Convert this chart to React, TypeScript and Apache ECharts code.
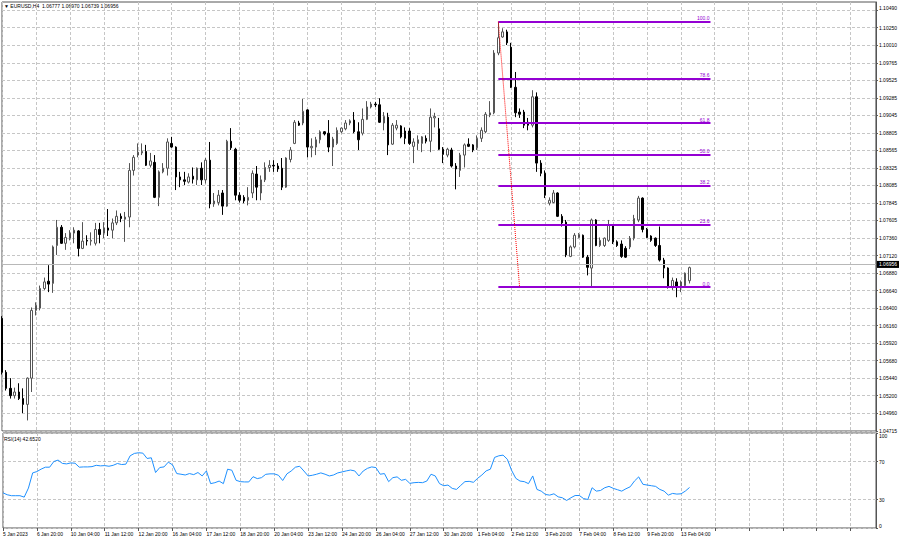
import React, { useEffect, useRef } from 'react';
import * as echarts from 'echarts';

const tickLabels = ['5 Jan 2023', '6 Jan 20:00', '10 Jan 04:00', '11 Jan 12:00', '12 Jan 20:00', '16 Jan 04:00', '17 Jan 12:00', '18 Jan 20:00', '20 Jan 04:00', '23 Jan 12:00', '24 Jan 20:00', '26 Jan 04:00', '27 Jan 12:00', '30 Jan 20:00', '1 Feb 04:00', '2 Feb 12:00', '3 Feb 20:00', '7 Feb 04:00', '8 Feb 12:00', '9 Feb 20:00', '13 Feb 04:00'];
const barsPerLabel = 8;
const slotCount = 207;

const opens = [1.0626,1.0552,1.0530,1.0520,1.0525,1.0516,1.0508,1.0544,1.0637,1.0640,
 1.0667,1.0677,1.0674,1.0726,1.0751,1.0729,1.0736,1.0743,1.0746,1.0722,
 1.0733,1.0732,1.0729,1.0748,1.0743,1.0750,1.0747,1.0757,1.0766,1.0762,
 1.0765,1.0829,1.0850,1.0853,1.0855,1.0836,1.0840,1.0792,1.0827,1.0832,
 1.0866,1.0861,1.0820,1.0816,1.0813,1.0821,1.0816,1.0832,1.0816,1.0843,
 1.0783,1.0785,1.0798,1.0780,1.0869,1.0858,1.0795,1.0792,1.0788,1.0798,
 1.0824,1.0798,1.0816,1.0833,1.0836,1.0835,1.0832,1.0806,1.0844,1.0866,
 1.0894,1.0894,1.0912,1.0860,1.0861,1.0871,1.0882,1.0880,1.0861,1.0866,
 1.0882,1.0886,1.0894,1.0898,1.0882,1.0880,1.0899,1.0916,1.0920,1.0919,
 1.0894,1.0902,1.0865,1.0887,1.0890,1.0883,1.0883,1.0862,1.0866,1.0866,
 1.0873,1.0869,1.0901,1.0886,1.0858,1.0850,1.0857,1.0835,1.0829,1.0850,
 1.0865,1.0864,1.0860,1.0873,1.0882,1.0905,1.0908,1.0990,1.1012,1.1019,
 1.0998,1.0943,1.0909,1.0909,1.0895,1.0891,1.0930,1.0839,1.0825,1.0784,
 1.0785,1.0798,1.0766,1.0758,1.0711,1.0724,1.0737,1.0740,1.0710,1.0695,
 1.0761,1.0726,1.0726,1.0733,1.0754,1.0731,1.0728,1.0722,1.0724,1.0736,
 1.0761,1.0791,1.0748,1.0739,1.0736,1.0726,1.0706,1.0695,1.0669,1.0676,
 1.0669,1.0671,1.06777];

const closes = [1.0552,1.0530,1.0520,1.0525,1.0516,1.0508,1.0544,1.0637,1.0644,1.0667,
 1.0676,1.0673,1.0724,1.0751,1.0729,1.0737,1.0743,1.0747,1.0722,1.0732,
 1.0732,1.0733,1.0748,1.0741,1.0750,1.0747,1.0757,1.0766,1.0763,1.0765,
 1.0829,1.0847,1.0854,1.0855,1.0836,1.0842,1.0792,1.0827,1.0832,1.0868,
 1.0861,1.0820,1.0816,1.0814,1.0820,1.0817,1.0832,1.0816,1.0843,1.0783,
 1.0787,1.0795,1.0780,1.0869,1.0860,1.0795,1.0788,1.0787,1.0792,1.0825,
 1.0806,1.0816,1.0833,1.0836,1.0835,1.0831,1.0806,1.0846,1.0857,1.0895,
 1.0891,1.0910,1.0861,1.0862,1.0871,1.0882,1.0879,1.0861,1.0872,1.0884,
 1.0887,1.0894,1.0897,1.0882,1.0871,1.0899,1.0916,1.0920,1.0919,1.0895,
 1.0903,1.0864,1.0891,1.0891,1.0875,1.0873,1.0866,1.0868,1.0871,1.0875,
 1.0869,1.0902,1.0903,1.0858,1.0851,1.0858,1.0835,1.0831,1.0850,1.0864,
 1.0862,1.0857,1.0873,1.0884,1.0906,1.0908,1.0990,1.1011,1.1019,1.1004,
 1.0943,1.0908,1.0906,1.0891,1.0891,1.0930,1.0839,1.0825,1.0795,1.0788,
 1.0798,1.0766,1.0757,1.0713,1.0724,1.0740,1.0741,1.0710,1.0696,1.0761,
 1.0726,1.0733,1.0736,1.0754,1.0731,1.0726,1.0711,1.0710,1.0736,1.0763,
 1.0791,1.0748,1.0737,1.0733,1.0726,1.0706,1.0695,1.0669,1.0678,1.0670,
 1.0676,1.0688,1.06956];

const lows = [1.0549,1.0527,1.0516,1.0516,1.0514,1.0496,1.0486,1.0525,1.0630,1.0637,
 1.0665,1.0662,1.0661,1.0713,1.0728,1.0720,1.0733,1.0729,1.0711,1.0721,
 1.0726,1.0726,1.0726,1.0729,1.0736,1.0739,1.0736,1.0754,1.0758,1.0731,
 1.0751,1.0822,1.0847,1.0850,1.0835,1.0833,1.0791,1.0780,1.0825,1.0822,
 1.0860,1.0802,1.0806,1.0809,1.0811,1.0811,1.0809,1.0809,1.0811,1.0777,
 1.0779,1.0781,1.0768,1.0779,1.0857,1.0788,1.0785,1.0784,1.0781,1.0791,
 1.0788,1.0788,1.0813,1.0827,1.0827,1.0827,1.0802,1.0805,1.0840,1.0865,
 1.0890,1.0891,1.0847,1.0847,1.0850,1.0866,1.0877,1.0854,1.0835,1.0864,
 1.0880,1.0884,1.0891,1.0880,1.0857,1.0877,1.0898,1.0914,1.0916,1.0894,
 1.0884,1.0850,1.0864,1.0884,1.0873,1.0865,1.0864,1.0839,1.0857,1.0854,
 1.0866,1.0854,1.0888,1.0857,1.0839,1.0847,1.0833,1.0803,1.0820,1.0833,
 1.0861,1.0854,1.0857,1.0868,1.0880,1.0902,1.0906,1.0987,1.1011,1.1001,
 1.0942,1.0902,1.0901,1.0887,1.0884,1.0888,1.0827,1.0821,1.0791,1.0781,
 1.0784,1.0765,1.0752,1.0710,1.0710,1.0722,1.0736,1.0709,1.0685,1.0669,
 1.0725,1.0724,1.0724,1.0731,1.0728,1.0724,1.0709,1.0709,1.0721,1.0733,
 1.0758,1.0744,1.0736,1.0731,1.0724,1.0704,1.0681,1.0667,1.0665,1.0655,
 1.0662,1.0669,1.06739];

const highs = [1.0629,1.0555,1.0544,1.0531,1.0537,1.0530,1.0545,1.0641,1.0648,1.0671,
 1.0682,1.0699,1.0726,1.0761,1.0754,1.0743,1.0747,1.0751,1.0747,1.0758,
 1.0740,1.0744,1.0757,1.0757,1.0758,1.0776,1.0763,1.0774,1.0770,1.0772,
 1.0839,1.0850,1.0866,1.0866,1.0864,1.0853,1.0850,1.0829,1.0839,1.0873,
 1.0875,1.0862,1.0827,1.0827,1.0825,1.0833,1.0833,1.0840,1.0846,1.0868,
 1.0798,1.0802,1.0802,1.0871,1.0887,1.0860,1.0799,1.0795,1.0806,1.0829,
 1.0835,1.0822,1.0840,1.0843,1.0843,1.0839,1.0846,1.0847,1.0861,1.0898,
 1.0897,1.0927,1.0913,1.0873,1.0875,1.0884,1.0883,1.0898,1.0875,1.0888,
 1.0888,1.0898,1.0899,1.0909,1.0895,1.0914,1.0924,1.0923,1.0923,1.0928,
 1.0909,1.0908,1.0894,1.0898,1.0891,1.0888,1.0887,1.0873,1.0877,1.0876,
 1.0877,1.0914,1.0908,1.0901,1.0861,1.0860,1.0860,1.0839,1.0853,1.0866,
 1.0873,1.0865,1.0877,1.0888,1.0909,1.0924,1.0994,1.1033,1.1024,1.1022,
 1.1004,1.0964,1.0914,1.0912,1.0901,1.0939,1.0936,1.0843,1.0829,1.0792,
 1.0802,1.0799,1.0769,1.0761,1.0726,1.0743,1.0743,1.0741,1.0713,1.0763,
 1.0762,1.0737,1.0737,1.0761,1.0755,1.0733,1.0733,1.0725,1.0739,1.0768,
 1.0794,1.0792,1.0750,1.0740,1.0737,1.0752,1.0709,1.0696,1.0682,1.0681,
 1.0678,1.0689,1.06970];

const rsiValues = [37,35,34,34,34,32.5,42,58,59.4,62,
 64,64,70,71.5,68,67.5,68.5,68.2,64,64.3,
 64.3,64.6,66,65.4,65.7,65,66,67.9,66.8,67.2,
 76,78.5,79.2,78.8,73.2,73.9,58.4,63.7,64.3,69.3,
 66.5,57.3,56.6,55.8,57.3,56.2,58.4,54.8,60.1,46.7,
 47.7,49.4,46.7,61.9,60.8,50.2,48.8,48.5,48.5,54,
 52,53,56.5,57,57,55.5,50,57,60,64,
 65,60,54.8,55.5,56.6,58,56.6,54.8,55.8,58,
 59,60.1,61,60.1,54.8,60,62.8,64.3,63.6,56.6,
 57.3,48.8,53,53.8,50.2,51.2,47,47.7,48,47.7,
 49.4,56.6,54.8,46.7,44.5,45.2,41.7,40.6,44.8,48.8,
 49.1,48.1,52.3,55.8,60.1,61.9,74.3,76,76.7,72.4,
 60.8,52.3,49.4,48.8,46.7,54.8,40.6,38.8,35.3,34.6,
 36,32.8,31.8,29,31.8,34.2,34.2,31,30,42.4,
 38.8,39.5,42.4,43.8,41.7,40.3,38.8,41.3,43.4,49.4,
 53.8,46,45.2,44.5,43.8,40.6,38.8,34.6,36.4,35.7,
 36,38.8,42.652];

const priceTicks = [1.10490, 1.10250, 1.10010, 1.09765, 1.09525, 1.09285, 1.09045, 1.08805, 1.08565, 1.08325, 1.08085, 1.07845, 1.07605, 1.07360, 1.07120, 1.06880, 1.06640, 1.06400, 1.06160, 1.05920, 1.05680, 1.05440, 1.05200, 1.04960, 1.04715];
const rsiTicks = [0, 30, 70, 100];

const fibLevels = [0, 23.6, 38.2, 50, 61.8, 78.6, 100];
const fibHigh = 1.1033;
const fibLow = 1.0669;
const fibStartIdx = 117;
const fibEndIdx = 167;
const trendEndIdx = 122;
const lastPrice = 1.06956;
const headerText = '\u25BC EURUSD,H4  1.06777 1.06970 1.06739 1.06956';
const rsiText = 'RSI(14) 42.6520';

const FONT = '"Liberation Sans", Arial, sans-serif';
const FIB_COLOR = '#9400D3';
const GRID_LINE = { color: '#c6c6c6', type: [3, 2] as any, width: 1 };

export default function App() {
  const ref = useRef<HTMLDivElement>(null);
  useEffect(() => {
    if (!ref.current) return;
    const chart = echarts.init(ref.current, undefined, { renderer: 'svg' });
    const cats = Array.from({ length: slotCount }, (_, i) => String(i));
    const candles = opens.map((o, i) => [o, closes[i], lows[i], highs[i]]);

    const fibLines = fibLevels.map((l) => {
      const price = fibLow + ((fibHigh - fibLow) * l) / 100;
      return [
        {
          coord: [String(fibStartIdx), price],
          lineStyle: { color: FIB_COLOR, width: 2, type: 'solid' },
          label: {
            show: true,
            position: 'insideEndTop',
            formatter: l.toFixed(1),
            color: FIB_COLOR,
            fontSize: 5,
            fontFamily: FONT,
            distance: 1,
          },
        },
        { coord: [String(fibEndIdx), price] },
      ];
    });

    const xLabelFormatter = (v: string) => {
      const n = Number(v);
      const k = n / barsPerLabel;
      return n % barsPerLabel === 0 && k < tickLabels.length ? tickLabels[k] : '';
    };

    const option: any = {
      animation: false,
      backgroundColor: '#ffffff',
      textStyle: { fontFamily: FONT },
      grid: [
        { left: 2, top: 2, width: 874, height: 429, show: true, borderColor: '#555', borderWidth: 1 },
        { left: 2, top: 433, width: 874, height: 95, show: true, borderColor: '#555', borderWidth: 1 },
      ],
      xAxis: [
        {
          type: 'category', gridIndex: 0, data: cats, boundaryGap: false,
          axisLine: { show: false }, axisTick: { show: false }, axisLabel: { show: false },
          splitLine: { show: true, interval: barsPerLabel - 1, lineStyle: GRID_LINE },
        },
        {
          type: 'category', gridIndex: 1, data: cats, boundaryGap: false,
          axisLine: { show: false },
          axisTick: { show: true, interval: barsPerLabel - 1, length: 3, lineStyle: { color: '#555' } },
          axisLabel: {
            show: true, interval: barsPerLabel - 1, formatter: xLabelFormatter,
            fontSize: 5, color: '#000', align: 'left', margin: 3, fontFamily: FONT,
          },
          splitLine: { show: true, interval: barsPerLabel - 1, lineStyle: GRID_LINE },
        },
      ],
      yAxis: [
        {
          type: 'value', gridIndex: 0, position: 'right', min: 1.04715, max: 1.1060, scale: true,
          axisLine: { show: true, lineStyle: { color: '#555' } },
          axisTick: { show: true, length: 2, customValues: priceTicks, lineStyle: { color: '#555' } },
          axisLabel: {
            customValues: priceTicks, formatter: (v: number) => v.toFixed(5),
            fontSize: 5, color: '#000', margin: 3, fontFamily: FONT,
            verticalAlignMinLabel: 'bottom',
          },
          splitLine: { show: true, lineStyle: GRID_LINE },
        },
        {
          type: 'value', gridIndex: 1, position: 'right', min: 0, max: 100,
          axisLine: { show: true, lineStyle: { color: '#555' } },
          axisTick: { show: true, length: 2, customValues: rsiTicks, lineStyle: { color: '#555' } },
          axisLabel: {
            customValues: rsiTicks, fontSize: 5, color: '#000', margin: 3, fontFamily: FONT,
            verticalAlignMinLabel: 'bottom', verticalAlignMaxLabel: 'top',
          },
          splitLine: { show: true, lineStyle: GRID_LINE },
        },
      ],
      series: [
        {
          type: 'candlestick',
          xAxisIndex: 0, yAxisIndex: 0,
          data: candles,
          barWidth: 2,
          itemStyle: {
            color: '#ffffff', color0: '#000000',
            borderColor: '#555555', borderColor0: '#000000', borderWidth: 1,
          },
          markLine: {
            silent: true,
            symbol: ['none', 'none'],
            animation: false,
            data: [
              {
                yAxis: lastPrice,
                lineStyle: { color: '#b8b8b8', width: 1, type: 'solid' },
                label: {
                  show: true, position: 'end', formatter: lastPrice.toFixed(5),
                  backgroundColor: '#000', color: '#fff', fontSize: 5, fontFamily: FONT,
                  padding: [1, 2, 1, 2], distance: 1, verticalAlign: 'middle', align: 'left',
                },
              },
              ...fibLines,
              [
                {
                  coord: [String(fibStartIdx), fibHigh],
                  lineStyle: { color: '#ff0000', width: 1, type: 'dotted' },
                  label: { show: false },
                },
                { coord: [String(trendEndIdx), fibLow] },
              ],
            ],
          },
        },
        {
          type: 'line',
          xAxisIndex: 1, yAxisIndex: 1,
          data: rsiValues,
          symbol: 'none',
          lineStyle: { color: '#1E90FF', width: 1 },
        },
      ],
      graphic: [
        { type: 'text', left: 4, top: 3, style: { text: headerText, fontSize: 5, fill: '#000', fontFamily: FONT } },
        { type: 'text', left: 4, top: 436, style: { text: rsiText, fontSize: 5, fill: '#000', fontFamily: FONT } },
      ],
    };
    chart.setOption(option);
    return () => chart.dispose();
  }, []);
  return <div ref={ref} style={{ position: 'fixed', left: 0, top: 0, width: 900, height: 539, background: '#fff' }} />;
}
